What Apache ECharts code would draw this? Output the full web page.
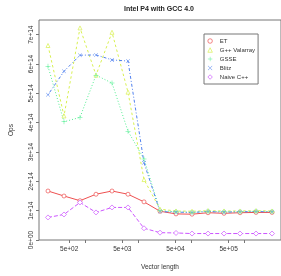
<!DOCTYPE html>
<html>
<head>
<meta charset="utf-8">
<script src="https://cdn.jsdelivr.net/npm/echarts@6/dist/echarts.min.js"></script>
<style>
html,body{margin:0;padding:0;background:#fff}
#chart{width:281px;height:276px}
</style>
</head>
<body>
<div id="chart"></div>
<script>
// vector lengths (200 * 2^k)
var sizes = [200, 400, 800, 1600, 3200, 6400, 12800, 25600, 51200, 102400, 204800, 409600, 819200, 1638400, 3276800];

// ops, in units of 1e14
var et       = [1.67, 1.50, 1.34, 1.56, 1.67, 1.56, 1.30, 0.98, 0.89, 0.88, 0.93, 0.91, 0.93, 0.94, 0.94];
var valarray = [6.63, 4.23, 7.23, 5.62, 7.08, 5.04, 2.06, 1.05, 0.99, 0.98, 1.00, 0.99, 0.99, 1.00, 0.99];
var gsse     = [5.92, 4.03, 4.18, 5.62, 5.35, 3.71, 2.76, 1.00, 0.96, 0.94, 0.98, 0.96, 0.96, 0.98, 0.97];
var blitz    = [4.95, 5.75, 6.30, 6.31, 6.14, 6.10, 2.63, 0.97, 0.95, 0.94, 0.97, 0.95, 0.96, 0.97, 0.96];
var naive    = [0.77, 0.87, 1.28, 0.94, 1.11, 1.11, 0.40, 0.25, 0.24, 0.22, 0.22, 0.22, 0.22, 0.22, 0.22];

var xTicks  = [500, 1000, 5000, 10000, 50000, 100000, 500000, 1000000];
var xLabels = [500, 5000, 50000, 500000];
var yTicks  = [0, 1e14, 2e14, 3e14, 4e14, 5e14, 6e14, 7e14];

function sci(v) {
  if (v === 0) return '0e+00';
  var e = Math.floor(Math.log10(v) + 1e-9);
  var m = Math.round(v / Math.pow(10, e));
  return m + 'e+' + (e < 10 ? '0' + e : e);
}
function pairs(ys) {
  return sizes.map(function (s, i) { return [s, ys[i] * 1e14]; });
}

var PLUS = 'path://M4.5,0H5.5V10H4.5Z M0,4.5H10V5.5H0Z';
var CROSS = 'path://M0,0.7L0.7,0L10,9.3L9.3,10Z M9.3,0L10,0.7L0.7,10L0,9.3Z';
var font = 'Liberation Sans, Arial, sans-serif';
var RED = '#ee5050', YEL = '#d8f050', GRN = '#50ee90', BLU = '#5080ee', MAG = '#cc55ff';

function hollow(col) {
  return {color: '#fff', borderColor: col, borderWidth: 0.7};
}

var chart = echarts.init(document.getElementById('chart'), null, {renderer: 'canvas'});
chart.setOption({
  animation: false,
  title: {
    text: 'Intel P4 with GCC 4.0',
    left: 154, top: 1, textAlign: 'center',
    textStyle: {fontSize: 7, fontWeight: 'bold', color: '#222', fontFamily: font}
  },
  grid: {left: 27, right: -1, top: 20, bottom: 32.5, show: true, borderColor: '#777', borderWidth: 1},
  legend: {
    orient: 'vertical', left: 204, top: 34,
    itemWidth: 4.5, itemHeight: 4.5, itemGap: 3,
    padding: [4, 3, 4, 3.5],
    borderColor: '#777', borderWidth: 1,
    textStyle: {fontSize: 6, color: '#333', fontFamily: font, padding: [0, 0, 0, 2.5]},
    data: [
      {name: 'ET', icon: 'circle', itemStyle: hollow(RED)},
      {name: 'G++ Valarray', icon: 'triangle', itemStyle: hollow(YEL)},
      {name: 'GSSE', icon: PLUS, itemStyle: {color: GRN, borderWidth: 0}},
      {name: 'Blitz', icon: CROSS, itemStyle: {color: BLU, borderWidth: 0}},
      {name: 'Naive C++', icon: 'diamond', itemStyle: hollow(MAG)}
    ]
  },
  xAxis: {
    type: 'log', logBase: 10, min: 135.5, max: 4830000,
    name: 'Vector length', nameLocation: 'middle', nameGap: 24,
    nameTextStyle: {fontSize: 6.5, color: '#333', fontFamily: font},
    axisLine: {show: false},
    splitLine: {show: false},
    axisTick: {customValues: xTicks, length: 3, lineStyle: {color: '#777'}},
    axisLabel: {customValues: xLabels, formatter: sci, fontSize: 6.5, color: '#333', margin: 6, fontFamily: font}
  },
  yAxis: {
    type: 'value', min: 0, max: 7.5e14,
    name: 'Ops', nameLocation: 'middle', nameGap: 24,
    nameTextStyle: {fontSize: 6.5, color: '#333', fontFamily: font},
    axisLine: {show: false},
    splitLine: {show: false},
    axisTick: {customValues: yTicks, length: 3, lineStyle: {color: '#777'}},
    axisLabel: {customValues: yTicks, formatter: sci, rotate: 90, fontSize: 6.5, color: '#333', margin: 4, fontFamily: font}
  },
  series: [
    {name: 'ET', type: 'line', data: pairs(et), symbol: 'circle', symbolSize: 4,
      itemStyle: hollow(RED), lineStyle: {width: 1, color: RED}},
    {name: 'G++ Valarray', type: 'line', data: pairs(valarray), symbol: 'triangle', symbolSize: 4,
      itemStyle: hollow(YEL), lineStyle: {width: 1, color: YEL, type: [2.5, 2.5]}},
    {name: 'GSSE', type: 'line', data: pairs(gsse), symbol: PLUS, symbolSize: 5,
      itemStyle: {color: GRN, borderWidth: 0}, lineStyle: {width: 1, color: GRN, type: [1, 2]}},
    {name: 'Blitz', type: 'line', data: pairs(blitz), symbol: CROSS, symbolSize: 4,
      itemStyle: {color: BLU, borderWidth: 0}, lineStyle: {width: 1, color: BLU, type: [1, 2, 3, 2]}},
    {name: 'Naive C++', type: 'line', data: pairs(naive), symbol: 'diamond', symbolSize: 5,
      itemStyle: hollow(MAG), lineStyle: {width: 1, color: MAG, type: [4, 2]}}
  ]
});
</script>
</body>
</html>
